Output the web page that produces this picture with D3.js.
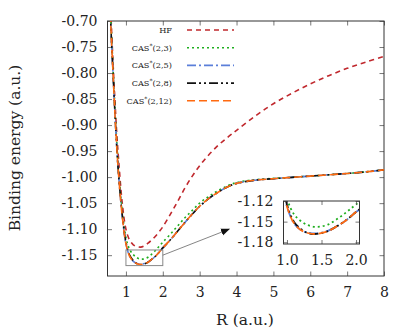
<!DOCTYPE html>
<html lang="en">
<head>
<meta charset="UTF-8">
<title>Binding energy</title>
<style>
    body { margin: 0; padding: 0; background: #fff; }
    svg text { font-family: "DejaVu Serif", "Liberation Serif", "Times New Roman", serif; fill: #222; }
</style>
</head>
<body>
<svg id="chart" width="416" height="333"></svg>
<script src="https://d3js.org/d3.v7.min.js"></script>
<script>
// distances R (a.u.)
const R = [0.55, 0.6, 0.65, 0.7, 0.75, 0.8, 0.9, 1.0, 1.1, 1.2, 1.3, 1.4, 1.5, 1.6, 1.7, 1.8, 1.9, 2.0,
           2.2, 2.4, 2.6, 2.8, 3.0, 3.25, 3.5, 3.75, 4.0, 4.5, 5.0, 5.5, 6.0, 6.5, 7.0, 7.5, 8.0];

const hf = [-0.61, -0.70, -0.78, -0.85, -0.915, -0.965, -1.05, -1.10, -1.121, -1.130, -1.1335, -1.1345, -1.132, -1.127, -1.1205, -1.1135, -1.105, -1.0955,
            -1.072, -1.047, -1.021, -0.998, -0.978, -0.957, -0.939, -0.924, -0.910, -0.883, -0.859, -0.839, -0.821, -0.805, -0.791, -0.779, -0.768];
const cas3 = [-0.625, -0.712, -0.79, -0.865, -0.93, -0.986, -1.065, -1.116, -1.139, -1.149, -1.155, -1.1575, -1.157, -1.154, -1.148, -1.141, -1.133, -1.125,
              -1.110, -1.094, -1.078, -1.064, -1.050, -1.037, -1.026, -1.017, -1.0105, -1.005, -1.0025, -1.0003, -0.998, -0.9955, -0.993, -0.990, -0.986];
const cas5 = [-0.64, -0.725, -0.80, -0.875, -0.94, -0.995, -1.075, -1.128, -1.152, -1.162, -1.166, -1.1672, -1.166, -1.163, -1.158, -1.152, -1.1445, -1.136,
              -1.121, -1.104, -1.087, -1.071, -1.056, -1.041, -1.029, -1.019, -1.012, -1.006, -1.003, -1.0005, -0.998, -0.9955, -0.993, -0.990, -0.986];
const cas8 = [-0.64, -0.725, -0.80, -0.875, -0.94, -0.995, -1.072, -1.125, -1.150, -1.1605, -1.1665, -1.168, -1.1665, -1.1635, -1.158, -1.152, -1.1445, -1.136,
              -1.121, -1.104, -1.087, -1.071, -1.056, -1.041, -1.029, -1.019, -1.012, -1.006, -1.003, -1.0005, -0.998, -0.9955, -0.993, -0.990, -0.986];
const cas12 = [-0.64, -0.725, -0.80, -0.875, -0.94, -0.995, -1.075, -1.128, -1.152, -1.162, -1.1665, -1.168, -1.1665, -1.1635, -1.158, -1.152, -1.1445, -1.136,
               -1.121, -1.104, -1.087, -1.071, -1.056, -1.041, -1.029, -1.019, -1.012, -1.006, -1.003, -1.0005, -0.998, -0.9955, -0.993, -0.990, -0.986];

const xTicks = [1, 2, 3, 4, 5, 6, 7, 8];
const yTicks = [-0.70, -0.75, -0.80, -0.85, -0.90, -0.95, -1.00, -1.05, -1.10, -1.15];
const insetXTicks = [1.0, 1.5, 2.0];
const insetYTicks = [-1.12, -1.15, -1.18];

const series = [
    { name: "HF", values: hf, color: "#c0282d", dash: "5,4" },
    { name: "(2,3)", values: cas3, color: "#1fae1f", dash: "2,3" },
    { name: "(2,5)", values: cas5, color: "#5b7fd9", dash: "9,3,2,3" },
    { name: "(2,8)", values: cas8, color: "#111", dash: "9,3,2,3,2,3" },
    { name: "(2,12)", values: cas12, color: "#ff6a10", dash: "8,4" }
];

const FONT = '"DejaVu Serif", "Liberation Serif", "Times New Roman", serif';
// plain hyphen instead of unicode minus, like the original
const fmt = p => v => d3.format(p)(v).replace("\u2212", "-");

const svg = d3.select("#chart");
const m = { left: 107.5, right: 384, top: 21, bottom: 276 };

const x = d3.scaleLinear().domain([0.5, 8]).range([m.left, m.right]);
const y = d3.scaleLinear().domain([-1.19, -0.70]).range([m.bottom, m.top]);

const defs = svg.append("defs");
defs.append("clipPath").attr("id", "clipMain")
    .append("rect").attr("x", m.left).attr("y", m.top)
    .attr("width", m.right - m.left).attr("height", m.bottom - m.top);

defs.append("marker").attr("id", "arrowHead")
    .attr("viewBox", "0 0 10 10").attr("refX", 9).attr("refY", 5)
    .attr("markerWidth", 9).attr("markerHeight", 9).attr("markerUnits", "userSpaceOnUse")
    .attr("orient", "auto")
    .append("path").attr("d", "M0,1 L10,5 L0,9 Z").attr("fill", "#111");

function drawAxes(g, xs, ys, xt, yt, fmtX, fmtY, tick) {
    const [x0, x1] = xs.range();
    const [y0, y1] = ys.range();
    g.append("g").attr("transform", `translate(0,${y0})`)
        .call(d3.axisBottom(xs).tickValues(xt).tickSize(-tick).tickPadding(11).tickFormat(fmtX))
        .call(a => a.select(".domain").remove());
    g.append("g").attr("transform", `translate(0,${y1})`)
        .call(d3.axisTop(xs).tickValues(xt).tickSize(-tick).tickFormat(""))
        .call(a => a.select(".domain").remove());
    g.append("g").attr("transform", `translate(${x0},0)`)
        .call(d3.axisLeft(ys).tickValues(yt).tickSize(-tick).tickPadding(10).tickFormat(fmtY))
        .call(a => a.select(".domain").remove());
    g.append("g").attr("transform", `translate(${x1},0)`)
        .call(d3.axisRight(ys).tickValues(yt).tickSize(-tick).tickFormat(""))
        .call(a => a.select(".domain").remove());
    g.selectAll("g").attr("font-family", FONT);
    g.selectAll(".tick line").attr("stroke", "#555").attr("stroke-width", 0.8);
    g.selectAll(".tick text").attr("font-size", 14).attr("fill", "#222")
        .attr("font-family", FONT);
    g.append("rect").attr("x", x0).attr("y", y1)
        .attr("width", x1 - x0).attr("height", y0 - y1)
        .attr("fill", "none").attr("stroke", "#333").attr("stroke-width", 1);
}

const main = svg.append("g");
drawAxes(main, x, y, xTicks, yTicks, fmt("d"), fmt(".2f"), 4.5);

const line = (xs, ys) => d3.line()
    .x((d, i) => xs(R[i]))
    .y(d => ys(d))
    .curve(d3.curveCatmullRom.alpha(0.5));

const curves = main.append("g").attr("clip-path", "url(#clipMain)");
series.forEach(s => {
    curves.append("path").datum(s.values)
        .attr("d", line(x, y))
        .attr("fill", "none")
        .attr("stroke", s.color)
        .attr("stroke-width", 1.6)
        .attr("stroke-dasharray", s.dash);
});

// zoom box and arrow
main.append("rect")
    .attr("x", x(1)).attr("y", y(-1.14))
    .attr("width", x(2) - x(1)).attr("height", y(-1.17) - y(-1.14))
    .attr("fill", "none").attr("stroke", "#888").attr("stroke-width", 1);
main.append("line")
    .attr("x1", x(2)).attr("y1", y(-1.15))
    .attr("x2", x(3.8)).attr("y2", y(-1.10))
    .attr("stroke", "#666").attr("stroke-width", 0.8)
    .attr("marker-end", "url(#arrowHead)");

// legend
const legend = main.append("g").attr("font-family", FONT);
series.forEach((s, i) => {
    const ly = 30 + i * 17.7;
    const t = legend.append("text")
        .attr("x", 172).attr("y", ly + 3)
        .attr("text-anchor", "end")
        .attr("font-size", 8.2);
    if (s.name === "HF") {
        t.text("HF");
    } else {
        t.append("tspan").text("CAS");
        t.append("tspan").text("*").attr("font-size", 6.2).attr("dy", -3);
        t.append("tspan").text(s.name).attr("dy", 3);
    }
    legend.append("line")
        .attr("x1", 187).attr("x2", 234)
        .attr("y1", ly).attr("y2", ly)
        .attr("stroke", s.color).attr("stroke-width", 1.6)
        .attr("stroke-dasharray", s.dash);
});

// axis titles
svg.append("text")
    .attr("x", 245).attr("y", 325)
    .attr("text-anchor", "middle").attr("font-size", 15.5)
    .attr("font-family", FONT)
    .text("R (a.u.)");
svg.append("text")
    .attr("transform", "translate(20,148) rotate(-90)")
    .attr("text-anchor", "middle").attr("font-size", 15.5)
    .attr("font-family", FONT)
    .text("Binding energy (a.u.)");

// inset
const ix = d3.scaleLinear().domain([0.95, 2.05]).range([283.5, 359.5]);
const iy = d3.scaleLinear().domain([-1.1825, -1.12]).range([244, 201]);

defs.append("clipPath").attr("id", "clipInset")
    .append("rect").attr("x", 283.5).attr("y", 201)
    .attr("width", 76).attr("height", 43);

const inset = svg.append("g");
inset.append("rect").attr("x", 283.5).attr("y", 201).attr("width", 76).attr("height", 43)
    .attr("fill", "#fff");
const insetCurves = inset.append("g").attr("clip-path", "url(#clipInset)");
series.filter(s => s.name !== "HF").forEach(s => {
    insetCurves.append("path").datum(s.values)
        .attr("d", line(ix, iy))
        .attr("fill", "none")
        .attr("stroke", s.color)
        .attr("stroke-width", 1.8)
        .attr("stroke-dasharray", s.dash);
});
drawAxes(inset, ix, iy, insetXTicks, insetYTicks, fmt(".1f"), fmt(".2f"), 4);
</script>
</body>
</html>
